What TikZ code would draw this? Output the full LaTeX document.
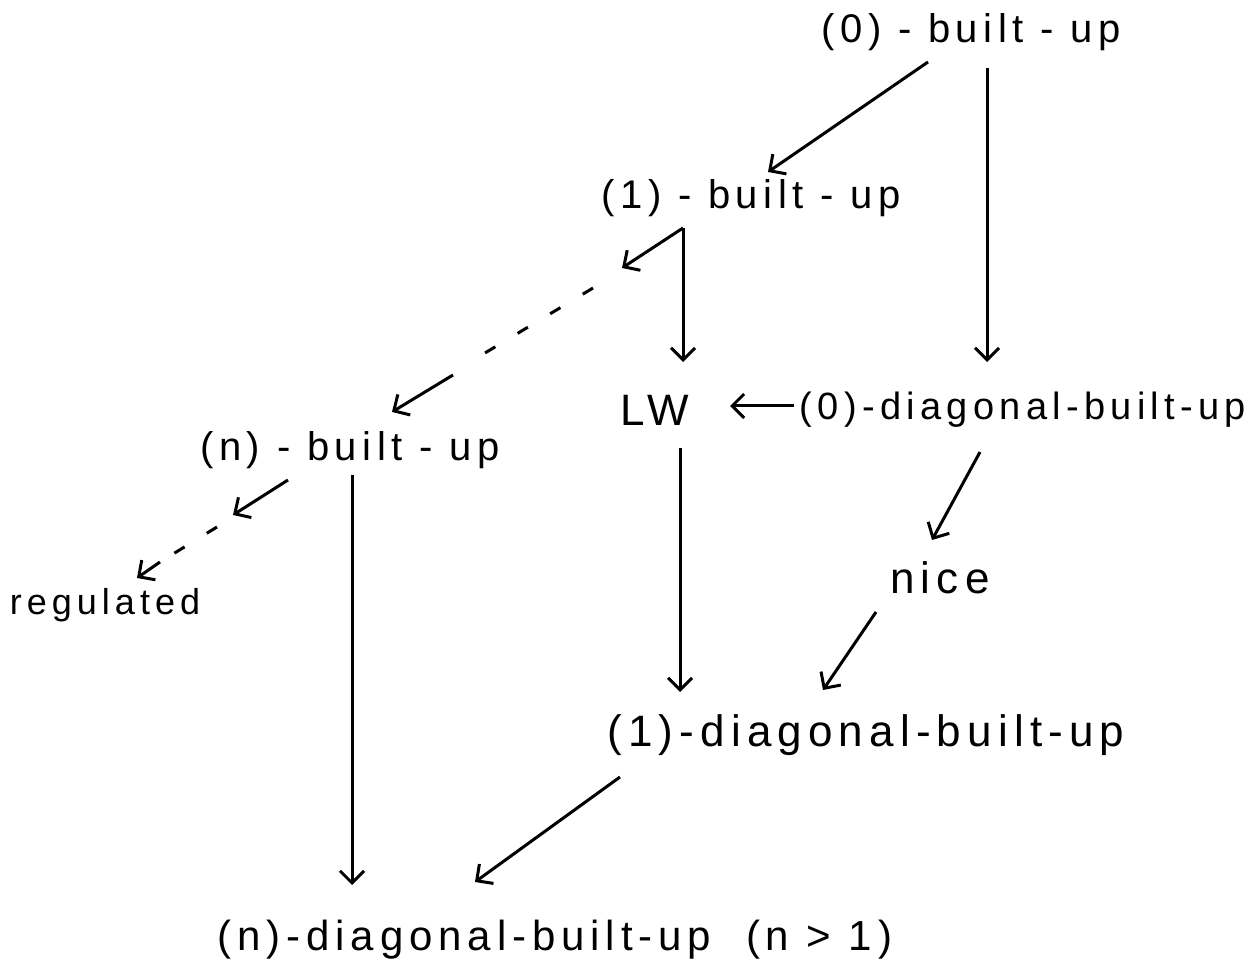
\documentclass[tikz,border=0pt]{standalone}
\usepackage{fontspec}
\setmainfont{Liberation Sans}[LetterSpace=14]
\usetikzlibrary{arrows.meta}
\begin{document}
\begin{tikzpicture}[x=0.5pt,y=-0.5pt,
  lbl/.style={inner sep=0pt, font=\fontsize{20}{24}\selectfont},
  arr/.style={line width=1.5pt, -{Straight Barb[length=6pt,width=12pt,line width=1.5pt]}},
  dsh/.style={line width=1.5pt, dash pattern=on 6pt off 13pt}]
\useasboundingbox (0,0) rectangle (1258,977);
\node[lbl] (b0) at (971,32) {(0) - built - up};
\node[lbl] (b1) at (751,198) {(1) - built - up};
\node[lbl] (bn) at (350,450) {(n) - built - up};
\node[lbl, font=\fontsize{22}{24}\selectfont] (lw) at (655,410) {LW};
\node[lbl, font=\fontsize{19}{24}\selectfont] (d0) at (1023,410) {(0)-diagonal-built-up};
\node[lbl, font=\fontsize{18}{24}\selectfont] (reg) at (105,605) {regulated};
\node[lbl, font=\fontsize{22}{24}\selectfont] (nice) at (940,578) {nice};
\node[lbl, font=\fontsize{22}{24}\selectfont] (d1) at (866,735) {(1)-diagonal-built-up};
\node[lbl, font=\fontsize{21}{24}\selectfont] (dn) at (555,940) {(n)-diagonal-built-up\ \ (n > 1)};
% end points of the connectors
\coordinate (a1s) at (928,62);   \coordinate (a1e) at (768,172);
\coordinate (a2s) at (987,68);   \coordinate (a2e) at (987,362);
\coordinate (p1) at (683,228);   \coordinate (a3e) at (683,362);
\coordinate (p2) at (622,268);
\coordinate (p3) at (593,288);
\coordinate (p4) at (480,356);
\coordinate (p5) at (453,375);
\coordinate (p6) at (392,412);
\coordinate (a5s) at (794,406);  \coordinate (a5e) at (730,406);
\coordinate (a6s) at (680,448);  \coordinate (a6e) at (680,692);
\coordinate (a7s) at (980,452);  \coordinate (a7e) at (932,540);
\coordinate (a8s) at (876,612);  \coordinate (a8e) at (823,690);
\coordinate (a9s) at (352,475);  \coordinate (a9e) at (352,885);
\coordinate (a10s) at (620,777); \coordinate (a10e) at (475,882);
\coordinate (q1) at (288,480);
\coordinate (q2) at (233,515);
\coordinate (q3) at (217,527);
\coordinate (q4) at (160,562);
\coordinate (q5) at (137,578);
% connectors
\draw[arr] (a1s) -- (a1e);
\draw[arr] (a2s) -- (a2e);
\draw[arr] (p1) -- (a3e);
\draw[arr] (p1) -- (p2);
\draw[dsh] (p3) -- (p4);
\draw[arr] (p5) -- (p6);
\draw[arr] (a5s) -- (a5e);
\draw[arr] (a6s) -- (a6e);
\draw[arr] (a7s) -- (a7e);
\draw[arr] (a8s) -- (a8e);
\draw[arr] (a9s) -- (a9e);
\draw[arr] (a10s) -- (a10e);
\draw[arr] (q1) -- (q2);
\draw[dsh] (q3) -- (q4);
\draw[arr] (q4) -- (q5);
\end{tikzpicture}
\end{document}
